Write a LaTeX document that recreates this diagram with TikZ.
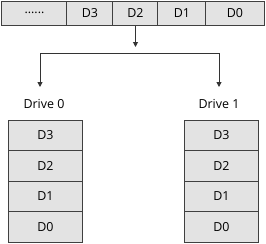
\documentclass[tikz,border=0pt]{standalone}
\usepackage{fontspec}
\setmainfont{Open Sans}
\usetikzlibrary{arrows.meta}
\tikzset{
  cell/.style = {
    draw=black!75, fill=black!11, line width=1bp,
    minimum height=24bp, inner sep=0pt,
    font=\fontsize{12.5}{14}\selectfont
  },
  blk/.style  = {cell, minimum width=73bp, minimum height=30.5bp},
  wire/.style = {draw=black!80, line width=1bp},
  arr/.style  = {wire, -{Triangle[width=5bp,length=5bp]}}
}

\begin{document}
\begin{tikzpicture}[x=1bp,y=-1bp]
\useasboundingbox (0,0) rectangle (266,244);
% data stripe
\node[cell, minimum width=65bp] (dots) at (34.5,13.25) {......};
\node[cell, minimum width=46bp] (s3) at (90,13.25) {D3};
\node[cell, minimum width=45bp] (s2) at (135.5,13.25) {D2};
\node[cell, minimum width=48bp] (s1) at (182,13.25) {D1};
\node[cell, minimum width=58bp] (s0) at (235,13.25) {D0};
\coordinate (split) at (135.5,47);
\draw[arr] (s2.south) -- (split);
% fan out to drives
\coordinate (L) at (40,53);
\coordinate (R) at (219,53);
\coordinate (Lend) at (40,87);
\coordinate (Rend) at (219,87);
\draw[wire] (L) -- (R);
\draw[arr] (L) -- (Lend);
\draw[arr] (R) -- (Rend);
\node[font=\fontsize{12.5}{14}\selectfont] (drv0) at (44,104) {Drive 0};
\node[font=\fontsize{12.5}{14}\selectfont] (drv1) at (219,104) {Drive 1};
% mirrored copies
\foreach \i/\t in {0/D3,1/D2,2/D1,3/D0}{
  \node[blk] (a\i) at (45.5,135.25+30.5*\i) {\t};
  \node[blk] (b\i) at (221.5,135.25+30.5*\i) {\t};
}
\end{tikzpicture}
\end{document}
